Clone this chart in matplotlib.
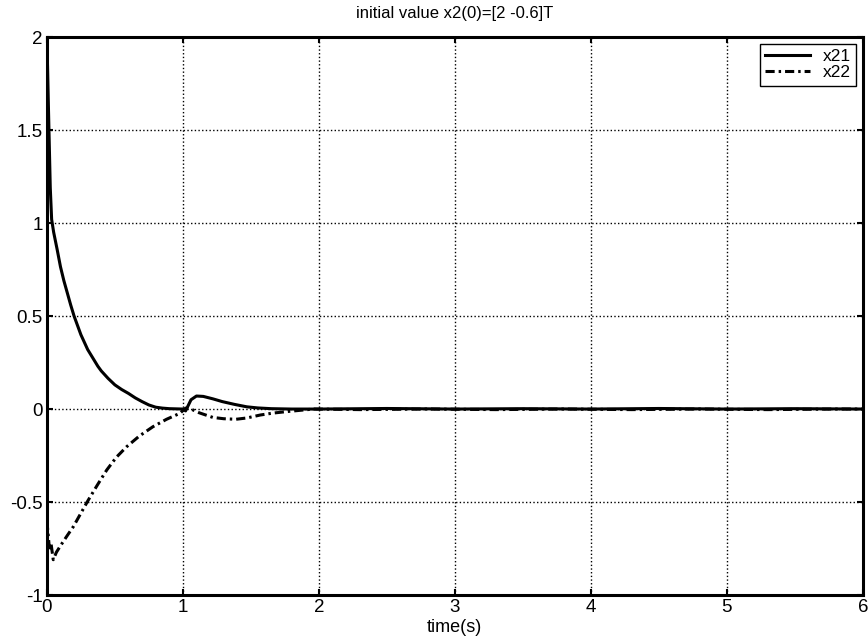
import numpy as np
import matplotlib
matplotlib.use('Agg')
import matplotlib.pyplot as plt
from matplotlib.ticker import FormatStrFormatter

plt.rcParams['font.family'] = ['Liberation Sans', 'DejaVu Sans']

# x21 response
t21 = [0, 0.005, 0.01, 0.02, 0.025, 0.035, 0.05, 0.075, 0.1, 0.125, 0.15, 0.175, 0.2,
       0.225, 0.25, 0.275, 0.3, 0.325, 0.35, 0.375, 0.4, 0.45, 0.5, 0.55, 0.6, 0.65,
       0.7, 0.75, 0.8, 0.85, 0.9, 1.0, 1.02, 1.06, 1.1, 1.15, 1.22,
       1.29, 1.38, 1.47, 1.55, 1.65, 1.8, 2.0, 2.5, 3.0, 3.5, 4.0, 4.5, 5.0, 5.5, 6.0]
x21 = [2.0, 1.84, 1.67, 1.35, 1.19, 1.02, 0.95, 0.86, 0.765, 0.69, 0.625, 0.56, 0.5,
       0.45, 0.40, 0.36, 0.32, 0.29, 0.26, 0.23, 0.205, 0.165, 0.13, 0.105, 0.084, 0.06,
       0.04, 0.022, 0.01, 0.005, 0.002, 0.0, -0.01, 0.05, 0.07, 0.068, 0.055,
       0.04, 0.025, 0.012, 0.006, 0.002, 0.0, 0.0, 0.003, 0.0, 0.002, 0.0, 0.003, 0.0, 0.002, 0.0]

# x22 response
t22 = [0, 0.01, 0.02, 0.03, 0.047, 0.07, 0.1, 0.15, 0.194, 0.25, 0.304, 0.37, 0.44, 0.51,
       0.586, 0.68, 0.78, 0.88, 0.978, 1.02, 1.06, 1.12, 1.22, 1.3, 1.39, 1.47,
       1.57, 1.66, 1.76, 1.86, 1.96, 2.3, 2.8, 3.3, 3.8, 4.3, 4.8, 5.3, 5.8, 6.0]
x22 = [-0.6, -0.68, -0.76, -0.72, -0.81, -0.77, -0.735, -0.68, -0.633, -0.56, -0.49, -0.41, -0.328, -0.26,
       -0.203, -0.145, -0.095, -0.055, -0.023, 0.005, 0.0, -0.02, -0.045, -0.052, -0.055, -0.048,
       -0.032, -0.022, -0.014, -0.007, 0.0, -0.003, 0.0, -0.003, 0.0, -0.003, 0.0, -0.003, 0.0, 0.0]

xticks = [0, 1, 2, 3, 4, 5, 6]
yticks = [-1, -0.5, 0, 0.5, 1, 1.5, 2]

fig = plt.figure(figsize=(8.68, 6.44), dpi=100)
ax = fig.add_axes([0.054, 0.076, 0.94, 0.8665])

ax.plot(t21, x21, color='black', lw=2.2, label='x21')
ax.plot(t22, x22, color='black', lw=2.2, linestyle=(0, (3, 1.3, 0.8, 1.3)), label='x22')

ax.set_xlim(0, 6)
ax.set_ylim(-1, 2)
ax.set_xticks(xticks)
ax.set_yticks(yticks)
ax.yaxis.set_major_formatter(FormatStrFormatter('%g'))
ax.grid(True, color='black', linestyle=':', linewidth=1)
ax.tick_params(direction='in', length=4, width=1.5, top=True, right=True, labelsize=13.5, pad=3)
for s in ax.spines.values():
    s.set_linewidth(2.2)

ax.set_title('initial value x2(0)=[2 -0.6]T', fontsize=12, pad=14)
ax.set_xlabel('time(s)', fontsize=13, labelpad=2)

leg = ax.legend(loc='upper right', fontsize=12.5, fancybox=False, framealpha=1,
                edgecolor='black', borderaxespad=0.4, handlelength=2.6, labelspacing=0.05,
                borderpad=0.3, handletextpad=0.7)
leg.get_frame().set_linewidth(1)

fig.savefig('out.png', dpi=100)
